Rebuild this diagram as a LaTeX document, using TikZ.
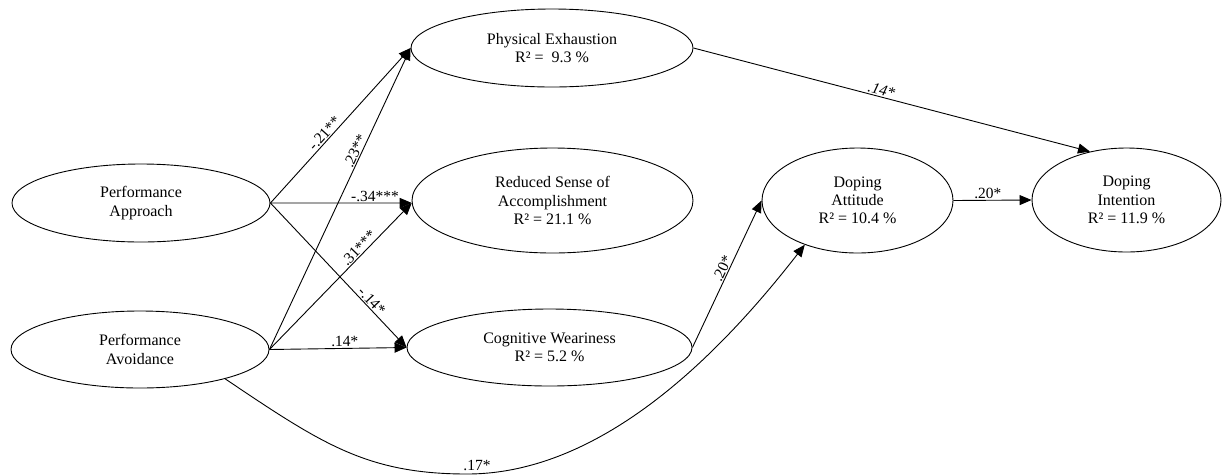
\documentclass[tikz,border=0pt]{standalone}
\usepackage{fontspec}
\setmainfont{Liberation Serif}
\usetikzlibrary{arrows.meta,shapes.geometric}
\begin{document}
\begin{tikzpicture}[x=1pt,y=-1pt,
  latent/.style={draw, ellipse, line width=0.9pt, inner sep=0pt, align=center,
    font=\fontsize{16}{18.3}\selectfont},
  link/.style={draw, line width=0.9pt, -{Triangle[length=12pt,width=10pt]}},
  coef/.style={font=\fontsize{15.5}{18}\selectfont, inner sep=1pt, sloped, above}
]
\useasboundingbox (0,0) rectangle (1223,475);

\node[latent, minimum width=258pt, minimum height=78pt] (pa) at (141,203) {Performance\\Approach};
\node[latent, minimum width=258pt, minimum height=77pt] (pav) at (140,349.5) {Performance\\Avoidance};
\node[latent, minimum width=282pt, minimum height=78pt] (pe) at (552,48) {Physical Exhaustion\\R² =\ \ 9.3 \%};
\node[latent, minimum width=281pt, minimum height=105pt] (rsa) at (552.5,200.5) {Reduced Sense of\\Accomplishment\\R² = 21.1 \%};
\node[latent, minimum width=285pt, minimum height=77pt] (cw) at (549.5,347.5) {Cognitive Weariness\\R² = 5.2 \%};
\node[latent, minimum width=191pt, minimum height=105pt] (da) at (857.5,200.5) {Doping\\Attitude\\R² = 10.4 \%};
\node[latent, minimum width=189pt, minimum height=104pt] (di) at (1126.5,200) {Doping\\Intention\\R² = 11.9 \%};

\draw[link] (pa.east) -- node[coef, pos=0.42]{-.21**} (pe.west);
\draw[link] (pav.east) -- node[coef, pos=0.65]{.23**} (pe.west);
\draw[link] (pa.east) -- node[coef, pos=0.74]{-.34***} (rsa.181);
\draw[link] (pav.east) -- node[coef, pos=0.66]{.31***} (rsa.181);
\draw[link] (pa.east) -- node[coef, pos=0.71]{-.14*} (cw.west);
\draw[link] (pav.east) -- node[coef, pos=0.55]{.14*} (cw.west);
\draw[link] (pe.east) -- node[coef, pos=0.47, font={\fontsize{15.5}{18}\selectfont\itshape}]{.14*} (di.127);
\draw[link] (cw.east) -- node[coef, pos=0.52]{.20*} (da.west);
\draw[link] (da.east) -- node[coef, pos=0.44]{.20*} (di.west);
\draw[link] (pav.341) .. controls (322,444) and (367,474) .. (467,474)
  node[above, xshift=10pt, inner sep=3pt, font=\fontsize{15.5}{18}\selectfont]{.17*}
  .. controls (597,474) and (713,363) .. (da.220);
\end{tikzpicture}
\end{document}
